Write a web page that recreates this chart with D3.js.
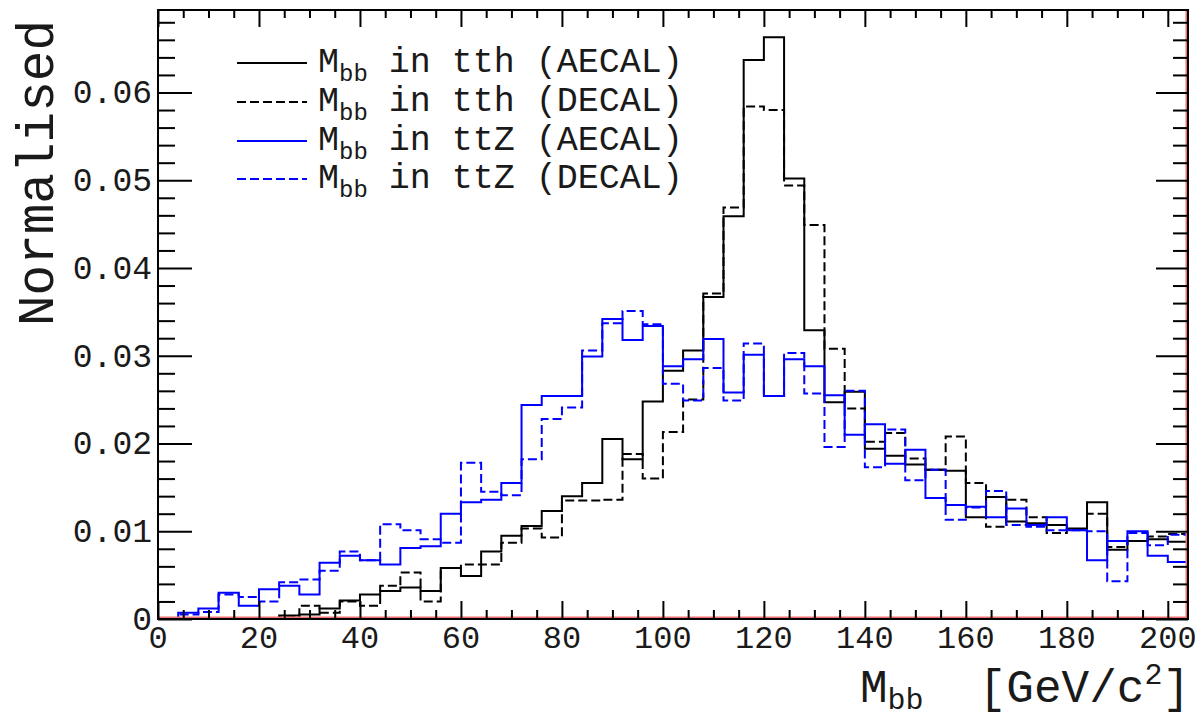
<!DOCTYPE html>
<html><head><meta charset="utf-8">
<script src="https://cdn.jsdelivr.net/npm/d3@7/dist/d3.min.js"></script>
<style>body{margin:0;background:#fff;} svg{display:block;} text{font-family:"Liberation Mono","Courier New",monospace;fill:#1a1a1a;}</style>
</head><body>
<svg id="c" width="1201" height="720"></svg>
<script>
// ---- data: 4 GeV bins from 0 to 204 GeV/c^2 ----
const binWidth = 4;
const binLow = d3.range(0, 204, binWidth);
const tthAECAL = [0,0,0,0,0,0,0.0004,0.0005,0.0012,0.0021,0.0028,0.0032,0.0036,0.0032,0.0058,0.0049,0.0077,0.0095,0.0106,0.0123,0.0140,0.0155,0.0205,0.0182,0.0248,0.0283,0.0306,0.0367,0.0459,0.0637,0.0663,0.0502,0.0329,0.0247,0.0259,0.0194,0.0186,0.0176,0.0170,0.0169,0.0116,0.0139,0.0111,0.0109,0.0107,0.0103,0.0133,0.0079,0.0089,0.0091,0.0088];
const tthDECAL = [0,0,0,0,0,0,0.0002,0.0015,0.0007,0.0020,0.0015,0.0038,0.0053,0.0020,0.0058,0.0062,0.0062,0.0087,0.0103,0.0093,0.0135,0.0135,0.0136,0.0188,0.0160,0.0213,0.0250,0.0371,0.0469,0.0584,0.0580,0.0494,0.0449,0.0308,0.0240,0.0202,0.0212,0.0183,0.0170,0.0208,0.0155,0.0105,0.0136,0.0116,0.0098,0.0102,0.0120,0.0082,0.0089,0.0094,0.0097];
const ttZAECAL = [0,0.0007,0.0012,0.0030,0.0015,0.0034,0.0038,0.0028,0.0064,0.0072,0.0067,0.0062,0.0081,0.0083,0.0120,0.0133,0.0136,0.0155,0.0244,0.0254,0.0254,0.0299,0.0342,0.0318,0.0334,0.0288,0.0296,0.0319,0.0258,0.0301,0.0254,0.0296,0.0288,0.0255,0.0210,0.0222,0.0177,0.0193,0.0138,0.0130,0.0128,0.0116,0.0126,0.0107,0.0116,0.0101,0.0067,0.0089,0.0100,0.0072,0.0065];
const ttZDECAL = [0,0.0005,0.0008,0.0028,0.0025,0.0020,0.0042,0.0045,0.0055,0.0077,0.0067,0.0108,0.0101,0.0091,0.0087,0.0178,0.0145,0.0141,0.0182,0.0228,0.0241,0.0306,0.0337,0.0351,0.0336,0.0268,0.0249,0.0286,0.0249,0.0314,0.0254,0.0303,0.0257,0.0196,0.0260,0.0173,0.0216,0.0158,0.0170,0.0113,0.0127,0.0146,0.0107,0.0105,0.0101,0.0101,0.0100,0.0043,0.0098,0.0084,0.0096];
const xTicks = [0,20,40,60,80,100,120,140,160,180,200];
const yTicks = [0,0.01,0.02,0.03,0.04,0.05,0.06];
const seriesNames = ["tth (AECAL)","tth (DECAL)","ttZ (AECAL)","ttZ (DECAL)"];

const series = [
  {name: seriesNames[0], values: tthAECAL, color: "#000000", dash: null},
  {name: seriesNames[1], values: tthDECAL, color: "#000000", dash: "9,4"},
  {name: seriesNames[2], values: ttZAECAL, color: "#0000ff", dash: null},
  {name: seriesNames[3], values: ttZDECAL, color: "#0000ff", dash: "9,4"}
];

const svg = d3.select("#c");
const L = 158, R = 1188, T = 10, B = 619;
const x = d3.scaleLinear().domain([0, 204]).range([L, R]);
const y = d3.scaleLinear().domain([0, 0.0694]).range([B, T]);

// histograms
const line = d3.line().x(d => x(d[0])).y(d => y(d[1])).curve(d3.curveStepAfter);
series.forEach(s => {
  const pts = s.values.map((v, i) => [binLow[i], v]);
  pts.push([binLow[binLow.length - 1] + binWidth, s.values[s.values.length - 1]]);
  svg.append("path").attr("d", line(pts)).attr("fill", "none")
    .attr("stroke", s.color).attr("stroke-width", 2)
    .attr("stroke-dasharray", s.dash);
});

// red baseline and right edge
svg.append("line").attr("x1", L).attr("x2", R).attr("y1", B - 1).attr("y2", B - 1)
  .attr("stroke", "#f07070").attr("stroke-width", 3);
svg.append("line").attr("x1", R - 1).attr("x2", R - 1).attr("y1", T).attr("y2", B)
  .attr("stroke", "#f07070").attr("stroke-width", 3);

// frame
svg.append("rect").attr("x", L).attr("y", T).attr("width", R - L).attr("height", B - T)
  .attr("fill", "none").attr("stroke", "#000").attr("stroke-width", 2);

// ticks
const xMinor = d3.range(0, 205, 5).filter(v => v % 20 !== 0);
const yMinor = d3.range(0, 0.0691, 0.002).filter((v, i) => i % 5 !== 0);
function ax(axisFn, scale, vals, size) {
  return axisFn(scale).tickValues(vals).tickSize(size).tickFormat("");
}
const tickStyle = g => { g.select(".domain").remove(); g.selectAll("line").attr("stroke", "#000").attr("stroke-width", 2); };
svg.append("g").attr("transform", `translate(0,${B})`).call(ax(d3.axisBottom, x, xTicks, -18)).call(tickStyle);
svg.append("g").attr("transform", `translate(0,${B})`).call(ax(d3.axisBottom, x, xMinor, -9)).call(tickStyle);
svg.append("g").attr("transform", `translate(0,${T})`).call(ax(d3.axisTop, x, xTicks, -17)).call(tickStyle);
svg.append("g").attr("transform", `translate(0,${T})`).call(ax(d3.axisTop, x, xMinor, -8)).call(tickStyle);
svg.append("g").attr("transform", `translate(${L},0)`).call(ax(d3.axisLeft, y, yTicks, -34)).call(tickStyle);
svg.append("g").attr("transform", `translate(${L},0)`).call(ax(d3.axisLeft, y, yMinor, -17)).call(tickStyle);
svg.append("g").attr("transform", `translate(${R},0)`).call(ax(d3.axisRight, y, yTicks, -32)).call(tickStyle);
svg.append("g").attr("transform", `translate(${R},0)`).call(ax(d3.axisRight, y, yMinor, -15)).call(tickStyle);

// tick labels
svg.append("g").selectAll("text").data(xTicks).join("text")
  .attr("x", d => x(d)).attr("y", 648).attr("text-anchor", "middle")
  .style("font-size", "32px").text(d => d);
svg.append("g").selectAll("text").data(yTicks).join("text")
  .attr("x", 152).attr("y", d => y(d) + 11).attr("text-anchor", "end")
  .style("font-size", "33px").text(d => d === 0 ? "0" : d3.format(".2f")(d));

// axis titles
svg.append("text").attr("transform", "translate(53,20) rotate(-90)")
  .attr("text-anchor", "end").style("font-size", "51px").text("Normalised");
const xt = svg.append("text").attr("x", 1190).attr("y", 702).attr("text-anchor", "end")
  .style("font-size", "46px").style("white-space", "pre");
xt.append("tspan").text("M");
xt.append("tspan").attr("dy", 7).style("font-size", "30px").text("bb");
xt.append("tspan").attr("dy", -7).text("  [GeV/c");
xt.append("tspan").attr("dy", -18).style("font-size", "30px").text("2");
xt.append("tspan").attr("dy", 18).text("]");

// legend
const legY = [63, 102, 141, 179];
series.forEach((s, i) => {
  const yy = legY[i];
  svg.append("line").attr("x1", 237).attr("x2", 307).attr("y1", yy).attr("y2", yy)
    .attr("stroke", s.color).attr("stroke-width", 2).attr("stroke-dasharray", s.dash);
  const t = svg.append("text").attr("x", 318).attr("y", yy + 9)
    .style("font-size", "35px").style("white-space", "pre");
  t.append("tspan").text("M");
  t.append("tspan").attr("dy", 9).style("font-size", "24px").text("bb");
  t.append("tspan").attr("dy", -9).text(" in " + s.name);
});
</script>
</body></html>
